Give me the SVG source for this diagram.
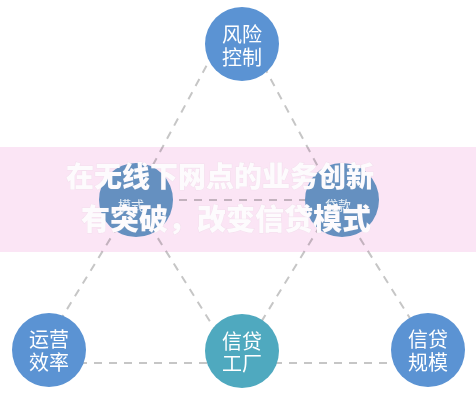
<svg xmlns="http://www.w3.org/2000/svg" width="476" height="400" viewBox="0 0 476 400">
<style>
.ln{stroke:#c6c6c6;stroke-width:2;stroke-dasharray:8 7;fill:none}
.blue{fill:#5b93d3}
.teal{fill:#4fa9bf}
.mid{fill:#66a0c8}
.lbl{font-family:"Noto Sans CJK SC","Noto Sans",sans-serif;font-size:20px;fill:#ffffff;text-anchor:middle;dominant-baseline:central}
.sm{font-family:"Noto Sans CJK SC","Noto Sans",sans-serif;font-size:13px;fill:#e9f0f6;text-anchor:middle;dominant-baseline:central}
.big{font-family:"Noto Sans CJK SC","Noto Sans",sans-serif;font-weight:900;fill:#fdfbfd;stroke:rgba(190,190,190,0.12);stroke-width:1;paint-order:stroke}
</style>
<rect width="476" height="400" fill="#ffffff"/>
<g id="connectors">
<line class="ln" x1="235" y1="13" x2="134" y2="200"/>
<line class="ln" x1="235" y1="13" x2="336" y2="200"/>
<line class="ln" x1="134" y1="200" x2="336" y2="200"/>
<line class="ln" x1="134" y1="200" x2="34" y2="363"/>
<line class="ln" x1="134" y1="200" x2="236" y2="363"/>
<line class="ln" x1="336" y1="200" x2="236" y2="363"/>
<line class="ln" x1="336" y1="200" x2="438" y2="363"/>
<line class="ln" x1="34" y1="363" x2="438" y2="363"/>
</g>
<g id="node-risk"><circle class="blue" cx="242" cy="44" r="37"/><text class="lbl" x="242" y="33">风险</text><text class="lbl" x="242" y="56">控制</text></g>
<g id="node-ops"><circle class="blue" cx="49" cy="350" r="37"/><text class="lbl" x="49" y="338">运营</text><text class="lbl" x="49" y="361">效率</text></g>
<g id="node-factory"><circle class="teal" cx="242" cy="351" r="37"/><text class="lbl" x="242" y="340">信贷</text><text class="lbl" x="242" y="362">工厂</text></g>
<g id="node-scale"><circle class="blue" cx="428" cy="350" r="37"/><text class="lbl" x="428" y="338">信贷</text><text class="lbl" x="428" y="361">规模</text></g>
<g id="node-mode"><circle class="mid" cx="136" cy="200" r="37"/></g>
<g id="node-loan"><circle class="mid" cx="342" cy="200" r="37"/></g>
<rect x="0" y="147" width="476" height="105" fill="#fbe5f5" style="mix-blend-mode:multiply"/>
<text class="sm" x="131" y="204">模式</text>
<text class="sm" x="338" y="204">贷款</text>
<g id="overlay-text">
<text class="big" x="66" y="187" font-size="28">在无线下网点的业务创新</text>
<text class="big" x="81" y="230" font-size="29">有突破，改变信贷模式</text>
</g>
</svg>
